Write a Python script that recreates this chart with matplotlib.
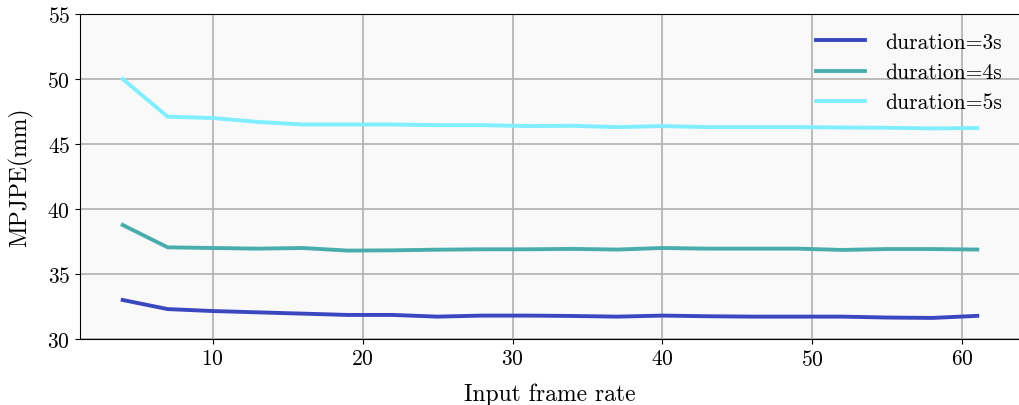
import numpy as np
import matplotlib
matplotlib.use("Agg")
import matplotlib.pyplot as plt

plt.rcParams['font.family'] = 'serif'
plt.rcParams['font.serif'] = ['cmr10']
plt.rcParams['mathtext.fontset'] = 'cm'
plt.rcParams['axes.formatter.use_mathtext'] = True

frame_rate = [4, 7, 10, 13, 16, 19, 22, 25, 28, 31, 34, 37, 40, 43, 46, 49, 52, 55, 58, 61]
mpjpe_3s = [33.0, 32.3, 32.15, 32.05, 31.95, 31.85, 31.85, 31.72, 31.8, 31.8,
            31.77, 31.72, 31.8, 31.75, 31.72, 31.72, 31.72, 31.65, 31.62, 31.78]
mpjpe_4s = [38.77, 37.05, 37.0, 36.95, 37.0, 36.8, 36.82, 36.87, 36.9, 36.9,
            36.93, 36.88, 37.0, 36.95, 36.95, 36.95, 36.85, 36.92, 36.92, 36.88]
mpjpe_5s = [50.0, 47.1, 47.0, 46.7, 46.5, 46.5, 46.5, 46.45, 46.45, 46.38,
            46.4, 46.3, 46.38, 46.3, 46.3, 46.3, 46.27, 46.25, 46.2, 46.23]

fig = plt.figure(figsize=(10.2, 4.06), dpi=100)
ax = fig.add_axes([0.0784, 0.1626, 0.9216, 0.8004])
ax.set_facecolor('#f9f9f9')

ax.plot(frame_rate, mpjpe_3s, color='#3b47bf', lw=2.8, label='duration=3s')
ax.plot(frame_rate, mpjpe_4s, color='#4aadad', lw=2.8, label='duration=4s')
ax.plot(frame_rate, mpjpe_5s, color='#80eeff', lw=2.8, label='duration=5s')

ax.set_ylim(30, 55)
ax.set_xticks([10, 20, 30, 40, 50, 60])
ax.grid(True, color='#b0b0b0', lw=1.2)
ax.set_axisbelow(True)
ax.spines['right'].set_visible(False)
ax.tick_params(labelsize=15.5)
ax.set_xlabel('Input frame rate', fontsize=17, labelpad=10)
ax.set_ylabel('MPJPE(mm)', fontsize=17, labelpad=10)
ax.legend(loc='upper right', frameon=False, fontsize=15.5,
          borderaxespad=0.3, borderpad=0.55, handlelength=2.3,
          labelspacing=0.5, handletextpad=0.9)

fig.savefig('out.png', dpi=100)
